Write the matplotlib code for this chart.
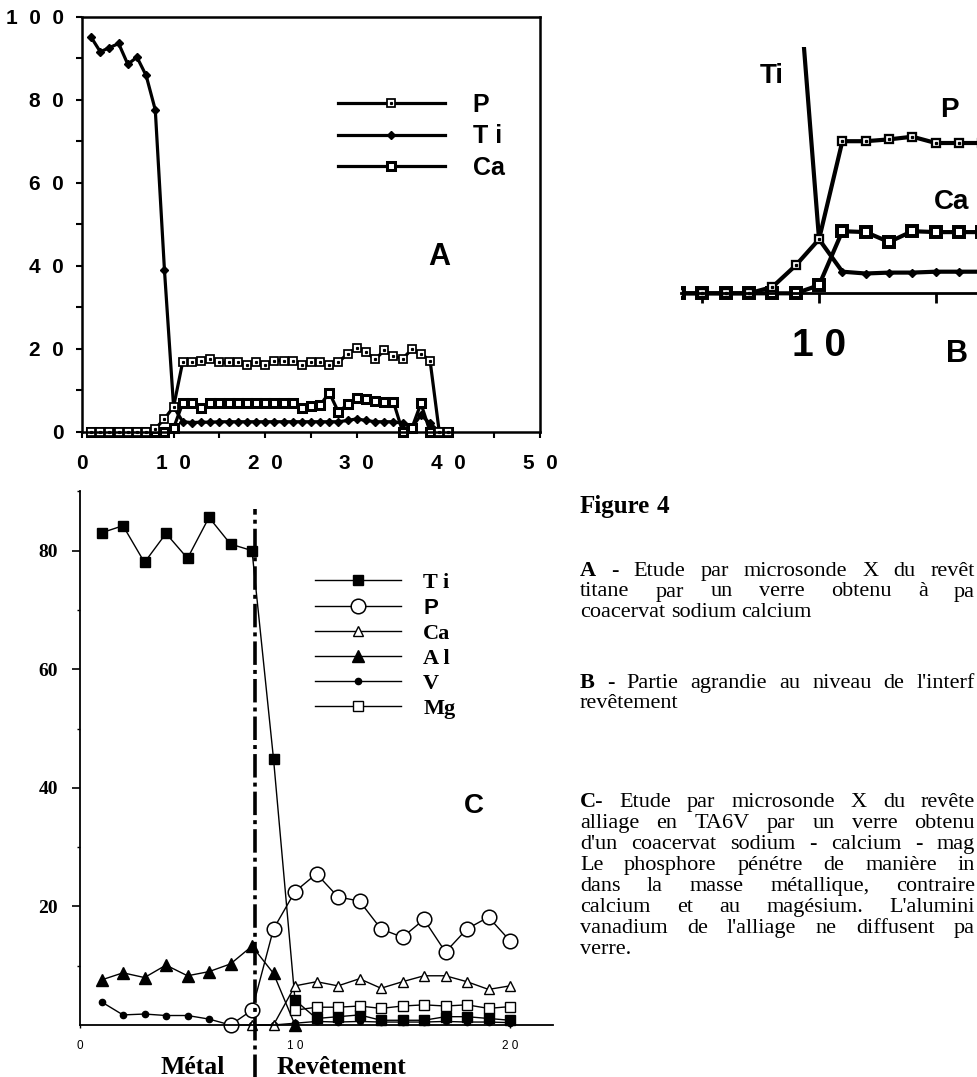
import matplotlib
matplotlib.use("Agg")
import matplotlib.pyplot as plt

W, H = 977, 1077
SANS = "Liberation Sans"
SERIF = "Liberation Serif"

# ---- panel A / B data (same profile, B is a zoom on the interface)
a_x = list(range(1, 41))
a_ti = [95, 91.5, 92.5, 93.5, 88.5, 90.2, 85.8, 77.5, 39, 6.0,
        2.4, 2.2, 2.3, 2.3, 2.4, 2.4, 2.4, 2.4, 2.4, 2.4,
        2.4, 2.4, 2.4, 2.4, 2.4, 2.4, 2.4, 2.4, 2.7, 3.1,
        2.7, 2.4, 2.4, 2.4, 2.0, 1.0, 4.0, 2.0, 0, 0]
a_p = [0, 0, 0, 0, 0, 0, 0, 0.7, 3.1, 6.0,
       16.9, 16.9, 17.1, 17.4, 16.7, 16.7, 16.7, 16.1, 16.7, 16.1,
       17.1, 17.1, 17.1, 16.1, 16.7, 16.7, 16.1, 16.7, 18.8, 20.2,
       19.2, 17.4, 19.6, 18.2, 17.6, 19.8, 18.8, 17.1, 0, 0]
a_ca = [0, 0, 0, 0, 0, 0, 0, 0, 0, 0.9,
        6.9, 6.8, 5.7, 6.9, 6.8, 6.8, 6.8, 6.8, 6.8, 6.8,
        6.8, 6.8, 6.8, 5.6, 6.2, 6.4, 9.4, 4.7, 6.6, 8.0,
        7.8, 7.3, 7.2, 7.2, 0, 0.8, 6.8, 0, 0, 0]
a_ticks = [0, 10, 20, 30, 40, 50]
a_xlabels = ["0", "1  0", "2  0", "3  0", "4  0", "5  0"]
a_yticks = [0, 20, 40, 60, 80, 100]
a_ylabels = ["0", "2  0", "4  0", "6  0", "8  0", "1  0  0"]

# ---- panel C data
c_x = list(range(1, 21))
c_ti = [83, 84.2, 78, 82.9, 78.7, 85.6, 81.1, 80, 44.9, 4.2,
        1.1, 1.4, 1.7, 0.8, 0.8, 0.8, 1.4, 1.4, 1.1, 0.8]
c_p_x = list(range(7, 21))
c_p = [0, 2.5, 16.2, 22.5, 25.5, 21.6, 20.9, 16.2, 14.8, 17.8, 12.3, 16.2, 18.2, 14.2]
c_ca_x = list(range(8, 21))
c_ca = [0, 0, 6.6, 7.3, 6.6, 7.8, 6.2, 7.3, 8.3, 8.3, 7.3, 6.0, 6.6]
c_al_x = list(range(1, 11))
c_al = [7.6, 8.8, 8.0, 10.1, 8.3, 9.0, 10.3, 13.3, 8.7, 0]
c_v = [3.9, 1.7, 1.85, 1.6, 1.6, 1.0, 0, 0, 0, 0.3,
       0.6, 0.5, 0.6, 0.5, 0.5, 0.5, 0.6, 0.5, 0.5, 0.4]
c_mg_x = list(range(10, 21))
c_mg = [2.5, 3.0, 3.0, 3.2, 2.8, 3.2, 3.4, 3.2, 3.4, 2.8, 3.1]
c_interface = 8.15
c_xticks = [0, 10, 20]
c_xlabels = ["0", "1 0", "2 0"]
c_yticks = [20, 40, 60, 80]

fig = plt.figure(figsize=(W / 100, H / 100), dpi=100)


def box(l, t, r, b):
    return [l / W, 1 - b / H, (r - l) / W, (b - t) / H]


def profile(ax, lw, ms, clip):
    kw = dict(color="k", lw=lw, clip_on=clip)
    ti, = ax.plot(a_x, a_ti, marker="D", ms=ms * 0.7, mfc="k", mec="k", **kw)
    ca, = ax.plot(a_x, a_ca, marker="s", ms=ms * 1.05, mfc="white", mec="k",
                  mew=lw * 0.95, **kw)
    p, = ax.plot(a_x, a_p, marker="s", ms=ms, mfc="white", mec="k",
                 mew=lw * 0.55, **kw)
    dot, = ax.plot(a_x, a_p, ls="none", marker="s", ms=ms * 0.22, color="k",
                   clip_on=clip)
    return p, dot, ti, ca


# ---------------- A
axA = fig.add_axes(box(82, 16.5, 540, 431.7))
pA, dotA, tiA, caA = profile(axA, 2.3, 5.8, False)
for s in axA.spines.values():
    s.set_linewidth(1.8)
axA.set_xticks(a_ticks)
axA.set_xticklabels(a_xlabels)
axA.set_xticks(range(5, 50, 10), minor=True)
axA.set_yticks(a_yticks)
axA.set_yticklabels(a_ylabels)
axA.set_yticks(range(10, 100, 20), minor=True)
axA.set_xlim(0, 50)
axA.set_ylim(0, 100)
axA.tick_params(which="both", direction="out", length=4.3, width=1.5)
axA.tick_params(axis="x", pad=12)
axA.tick_params(axis="y", pad=9)
for t in axA.get_xticklabels() + axA.get_yticklabels():
    t.set_fontfamily(SANS)
    t.set_fontweight("bold")
    t.set_fontsize(15)
legA = axA.legend([(pA, dotA), tiA, caA], ["P", "T i", "Ca"],
                  loc="upper left", bbox_to_anchor=(27.9, 81.6),
                  bbox_transform=axA.transData, frameon=False, borderpad=0,
                  borderaxespad=0, handlelength=4.3, handletextpad=1.1,
                  labelspacing=0.3, numpoints=1,
                  prop=dict(family=SANS, weight="bold", size=18))
axA.text(39, 42, "A", fontsize=22, fontweight="bold", family=SANS,
         ha="center", va="center")

# ---------------- B (magnified interface)
axB = fig.add_axes(box(681.4, 46.7, 1001, 307.7))
profile(axB, 3.0, 6.4, True)
for k in ["left", "top", "right"]:
    axB.spines[k].set_visible(False)
axB.spines["bottom"].set_position(("data", 0))
axB.spines["bottom"].set_linewidth(2)
axB.set_yticks([])
axB.set_xticks([10])
axB.set_xticklabels(["1 0"])
axB.set_xticks([5, 15], minor=True)
axB.set_xlim(4.1, 17.8)
axB.set_ylim(-1.6, 27.4)
axB.tick_params(which="both", direction="out", length=7, width=2)
axB.tick_params(axis="x", pad=18)
for t in axB.get_xticklabels():
    t.set_fontfamily(SANS)
    t.set_fontweight("bold")
    t.set_fontsize(28)
for lbl, x, y in [("Ti", 7.97, 24.1), ("P", 15.6, 20.4), ("Ca", 15.7, 10.2)]:
    axB.text(x, y, lbl, fontsize=20, fontweight="bold", family=SANS,
             ha="center", va="center")
fig.text(956.7 / W, 1 - 354 / H, "B", fontsize=22, fontweight="bold",
         family=SANS, ha="center", va="center")

# ---------------- C
axC = fig.add_axes(box(80, 491.3, 553, 1025))
kw = dict(color="k", lw=1.0, clip_on=False)
tiC, = axC.plot(c_x, c_ti, marker="s", ms=7, mfc="k", mec="k", **kw)
alC, = axC.plot(c_al_x, c_al, marker="^", ms=8, mfc="k", mec="k", **kw)
vC, = axC.plot(c_x, c_v, marker="o", ms=4.5, mfc="k", mec="k", **kw)
caC, = axC.plot(c_ca_x, c_ca, marker="^", ms=7, mfc="white", mec="k", mew=1.0, **kw)
mgC, = axC.plot(c_mg_x, c_mg, marker="s", ms=6.5, mfc="white", mec="k", mew=1.0, **kw)
pC, = axC.plot(c_p_x, c_p, marker="o", ms=10.5, mfc="white", mec="k", mew=1.1, **kw)
axC.axvline(c_interface, ymin=-0.1, ymax=0.967, color="k", lw=2.6,
            ls=(0, (6.5, 1.4, 1.1, 1.4)), clip_on=False)
axC.spines["top"].set_visible(False)
axC.spines["right"].set_visible(False)
for s in ["left", "bottom"]:
    axC.spines[s].set_linewidth(1.3)
axC.set_yticks(c_yticks)
axC.set_yticks(range(10, 91, 20), minor=True)
axC.set_xticks(c_xticks)
axC.set_xticklabels(c_xlabels)
axC.set_xlim(0, 22)
axC.set_ylim(0, 90)
axC.tick_params(axis="y", which="major", direction="out", length=5.8, width=1.2, pad=10)
axC.tick_params(axis="y", which="minor", direction="out", length=2.2, width=1.0)
axC.tick_params(axis="x", direction="out", length=2.5, width=1.0, pad=8)
for t in axC.get_yticklabels():
    t.set_fontfamily(SERIF)
    t.set_fontweight("bold")
    t.set_fontsize(14)
for t in axC.get_xticklabels():
    t.set_fontfamily(SANS)
    t.set_fontsize(8.5)
legC = axC.legend([tiC, pC, caC, alC, vC, mgC], ["T i", "P", "Ca", "A l", "V", "Mg"],
                  loc="upper left", bbox_to_anchor=(10.95, 76.3),
                  bbox_transform=axC.transData, frameon=False, borderpad=0,
                  borderaxespad=0, handlelength=3.85, handletextpad=1.0,
                  labelspacing=0.2, numpoints=1,
                  prop=dict(family=SERIF, weight="bold", size=16))
legC.get_texts()[1].set_fontfamily(SANS)
axC.text(18.3, 37, "C", fontsize=20, fontweight="bold", family=SANS,
         ha="center", va="center")
fig.text(193 / W, 1 - 1074 / H, "Métal", fontsize=18.5, fontweight="bold",
         family=SERIF, ha="center", va="baseline")
fig.text(341.7 / W, 1 - 1074 / H, "Revêtement", fontsize=18.5, fontweight="bold",
         family=SERIF, ha="center", va="baseline")

# ---------------- caption (justified column, cut by the page edge)
CAP_X = 580
CAP_R = 975
CAP_SIZE = 16
renderer = fig.canvas.get_renderer()


def caption_line(y, words, n_bold=0, justify=True, size=CAP_SIZE):
    texts = [fig.text(0, 1 - y / H, w, fontsize=size, family=SERIF,
                      fontweight="bold" if i < n_bold else "normal",
                      va="baseline")
             for i, w in enumerate(words)]
    widths = [t.get_window_extent(renderer).width for t in texts]
    if not justify or len(words) < 2:
        gap = 0.25 * size * 100 / 72
    else:
        gap = (CAP_R - CAP_X - sum(widths)) / (len(words) - 1)
    x = CAP_X
    for t, w in zip(texts, widths):
        t.set_x(x / W)
        x += w + gap


caption_line(513, ["Figure", "4"], 2, False, 18)
caption_line(576, ["A", "-", "Etude", "par", "microsonde", "X", "du", "revêt"], 2)
caption_line(596.5, ["titane", "par", "un", "verre", "obtenu", "à", "pa"])
caption_line(617, ["coacervat", "sodium", "calcium"], 0, False)
caption_line(688, ["B", "-", "Partie", "agrandie", "au", "niveau", "de", "l'interf"], 2)
caption_line(708.5, ["revêtement"], 0, False)
caption_line(807, ["C-", "Etude", "par", "microsonde", "X", "du", "revête"], 1)
caption_line(828, ["alliage", "en", "TA6V", "par", "un", "verre", "obtenu"])
caption_line(849, ["d'un", "coacervat", "sodium", "-", "calcium", "-", "mag"])
caption_line(870, ["Le", "phosphore", "pénétre", "de", "manière", "in"])
caption_line(891, ["dans", "la", "masse", "métallique,", "contraire"])
caption_line(912, ["calcium", "et", "au", "magésium.", "L'alumini"])
caption_line(933, ["vanadium", "de", "l'alliage", "ne", "diffusent", "pa"])
caption_line(954, ["verre."], 0, False)

fig.savefig("out.png", dpi=100)
